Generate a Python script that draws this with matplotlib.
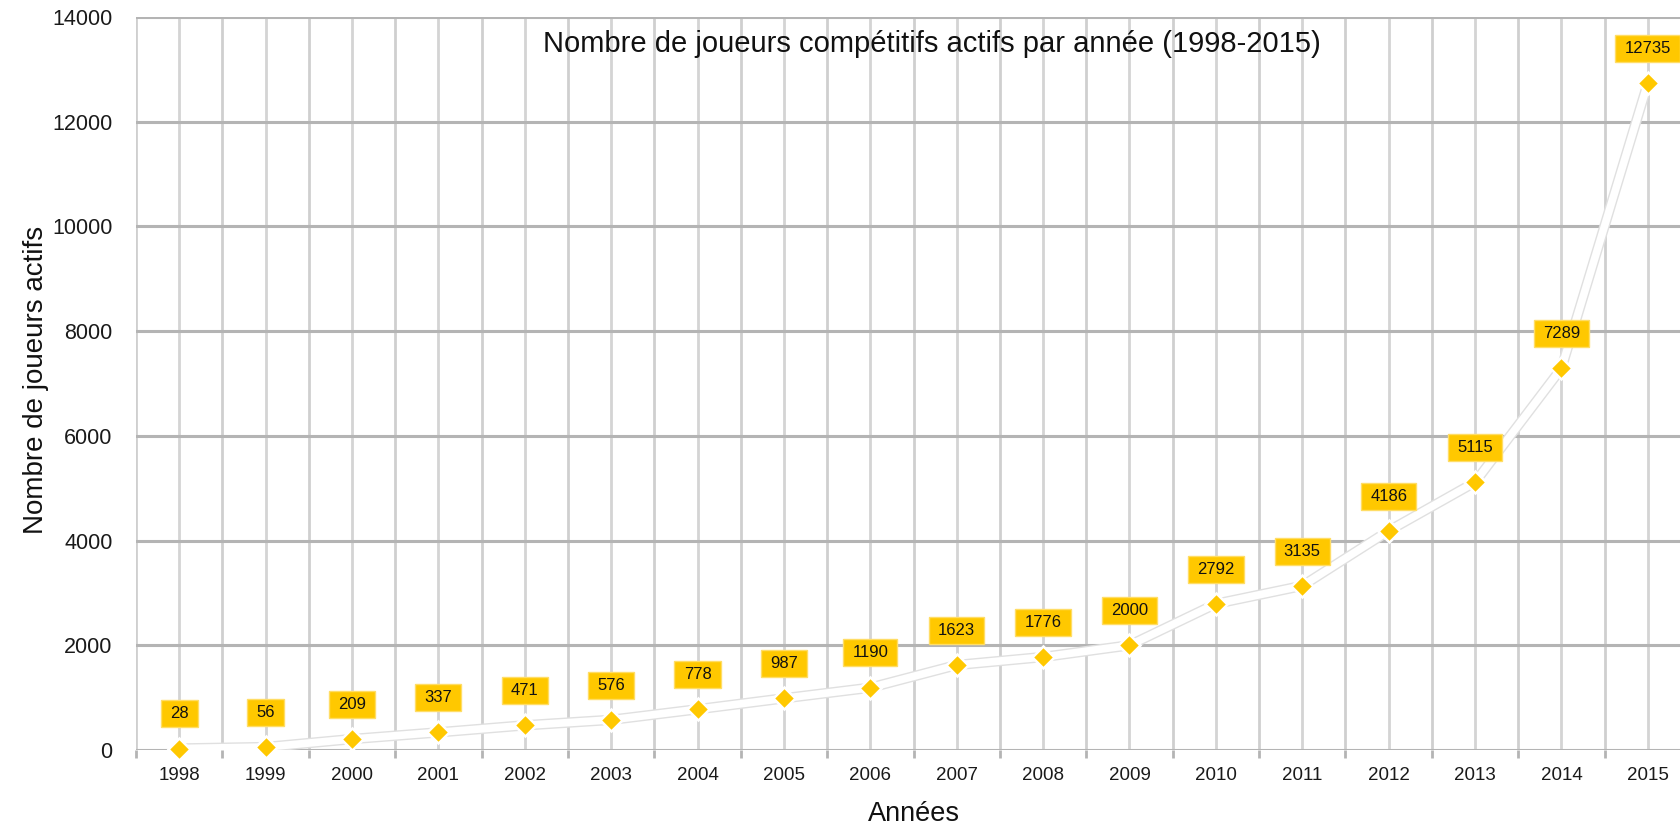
import matplotlib
matplotlib.use("Agg")
import matplotlib.pyplot as plt
import matplotlib.patheffects as pe
from matplotlib.path import Path
import numpy as np

years = ["1998", "1999", "2000", "2001", "2002", "2003", "2004", "2005", "2006",
         "2007", "2008", "2009", "2010", "2011", "2012", "2013", "2014", "2015"]
players = [28, 56, 209, 337, 471, 576, 778, 987, 1190,
           1623, 1776, 2000, 2792, 3135, 4186, 5115, 7289, 12735]
yticks = [0, 2000, 4000, 6000, 8000, 10000, 12000, 14000]

plt.rcParams['font.family'] = ['Liberation Sans', 'DejaVu Sans']

fig = plt.figure(figsize=(16.8, 8.27), dpi=100)
W, H = 1680, 827
left, right, top, bottom = 136, 1691, 17, 750
ax = fig.add_axes([left / W, 1 - bottom / H, (right - left) / W, (bottom - top) / H])

x = np.arange(len(years))
ax.set_xlim(-0.5, len(years) - 0.5)
ax.set_ylim(0, 14000)

# grid
for b in np.arange(-0.5, len(years), 1.0):
    ax.axvline(b, color='#cfcfcf', lw=2, zorder=0)
for c in x:
    ax.axvline(c, color='#d4d4d4', lw=2, zorder=0)
for yv in yticks:
    ax.axhline(yv, color='#b4b4b4', lw=2.2, zorder=0.5)

for s in ax.spines.values():
    s.set_visible(False)

ax.set_yticks(yticks)
ax.set_yticklabels([str(v) for v in yticks], fontsize=15.5, color='#1a1a1a')
ax.tick_params(axis='y', length=0, pad=17)

ax.set_xticks(x)
ax.set_xticklabels(years, fontsize=13.5, color='#1a1a1a')
ax.tick_params(axis='x', length=0, pad=12)
ax.set_xticks(np.arange(-0.5, len(years), 1.0), minor=True)
ax.tick_params(axis='x', which='minor', length=6, width=2, color='#b4b4b4', direction='out')

ax.plot(x, players, color='white', lw=5.5, zorder=3,
        path_effects=[pe.Stroke(linewidth=7.5, foreground='#e0e0e0'), pe.Normal()])
ax.plot(x, players, linestyle='none', marker='D', markersize=11, markerfacecolor='#FFC800',
        markeredgecolor='white', markeredgewidth=1.8, zorder=4, clip_on=False)


def wide_box(x0, y0, width, height, mutation_size):
    px = 0.55 * mutation_size
    py = 0.36 * mutation_size
    x0, y0 = x0 - px, y0 - py
    x1, y1 = x0 + width + 2 * px, y0 + height + 2 * py
    return Path([(x0, y0), (x1, y0), (x1, y1), (x0, y1), (x0, y0)], closed=True)


for xi, v in zip(x, players):
    ax.annotate(str(v), (xi, v), xytext=(0, 25), textcoords='offset points',
                ha='center', va='center', fontsize=12, color='#111111', zorder=5,
                annotation_clip=False,
                bbox=dict(boxstyle=wide_box, facecolor='#FFC800',
                          edgecolor='#FFDD66', linewidth=1))

fig.text(932 / W, 1 - 52 / H, "Nombre de joueurs compétitifs actifs par année (1998-2015)",
         ha='center', va='baseline', fontsize=21, color='#111111')
fig.text(914 / W, 1 - 814 / H, "Années", ha='center', va='center', fontsize=19.5, color='#111111')
fig.text(36 / W, 1 - 380 / H, "Nombre de joueurs actifs", ha='center', va='center',
         rotation=90, fontsize=20, color='#111111')

fig.savefig("out.png", dpi=100)
